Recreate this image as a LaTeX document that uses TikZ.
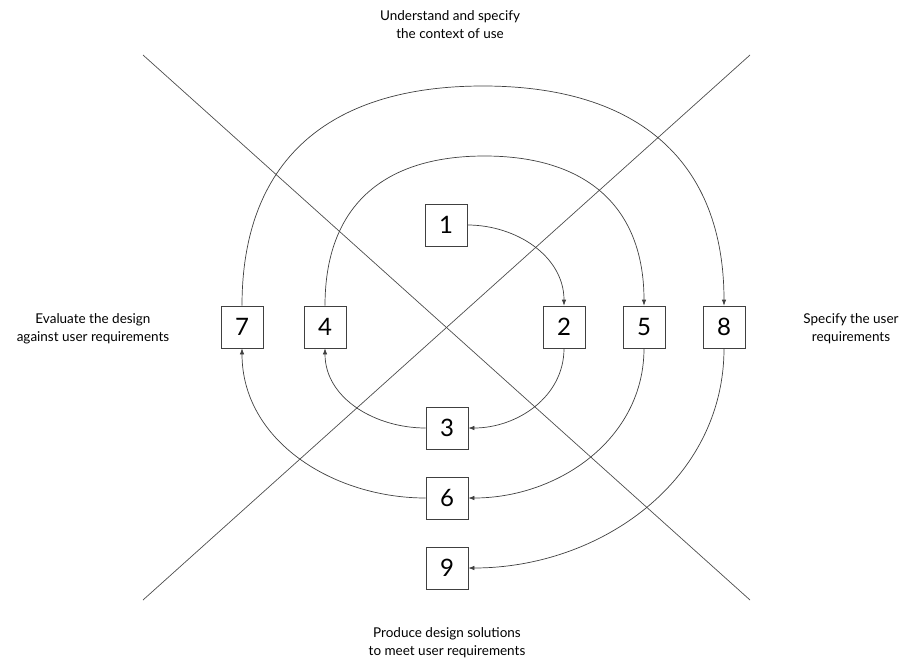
\documentclass[tikz,border=0pt]{standalone}
\usepackage{fontspec}
\setmainfont{Lato}
\usetikzlibrary{arrows.meta}
\begin{document}
\begin{tikzpicture}[x=1pt,y=-1pt,
  stepbox/.style={draw=black!75,line width=0.7pt,fill=white,minimum width=42pt,minimum height=42pt,inner sep=0pt,font=\fontsize{24}{24}\selectfont},
  phase/.style={align=center,font=\fontsize{13.5}{18}\selectfont},
  axis/.style={draw=black!70,line width=0.7pt},
  flow/.style={draw=black!75,line width=0.7pt,-{Latex[length=6pt,width=4.5pt]}}]
\useasboundingbox (0,0) rectangle (904,662);
% the two crossing diagonals
\draw[axis] (143,55) -- (750,600);
\draw[axis] (750,55) -- (143,600);
% phase labels
\node[phase] (ctx) at (450,25) {Understand and specify\\the context of use};
\node[phase] (req) at (851,329) {Specify the user\\requirements};
\node[phase] (sol) at (447,643) {Produce design solutions\\to meet user requirements};
\node[phase] (eva) at (93,329) {Evaluate the design\\against user requirements};
% numbered steps
\node[stepbox] (s1) at (446,225) {1};
\node[stepbox] (s2) at (564,327) {2};
\node[stepbox] (s3) at (447,428) {3};
\node[stepbox] (s4) at (325,327) {4};
\node[stepbox] (s5) at (644,327) {5};
\node[stepbox] (s6) at (447,498) {6};
\node[stepbox] (s7) at (242,327) {7};
\node[stepbox] (s8) at (724,327) {8};
\node[stepbox] (s9) at (447,568) {9};
% apex points of the two long arcs
\coordinate (top45) at (484.5,156);
\coordinate (top78) at (483,86);
% spiral of transitions
\draw[flow] (s1.east) to[out=0,in=90] (s2.north);
\draw[flow] (s2.south) to[out=-90,in=0] (s3.east);
\draw[flow] (s3.west) to[out=180,in=-90] (s4.south);
\draw[flow] (s4.north) .. controls +(0,-98) and +(-103,0) .. (top45)
                       .. controls +(103,0) and +(0,-98) .. (s5.north);
\draw[flow] (s5.south) to[out=-90,in=0] (s6.east);
\draw[flow] (s6.west) to[out=180,in=-90] (s7.south);
\draw[flow] (s7.north) .. controls +(0,-143) and +(-157,0) .. (top78)
                       .. controls +(157,0) and +(0,-143) .. (s8.north);
\draw[flow] (s8.south) to[out=-90,in=0] (s9.east);
\end{tikzpicture}
\end{document}
